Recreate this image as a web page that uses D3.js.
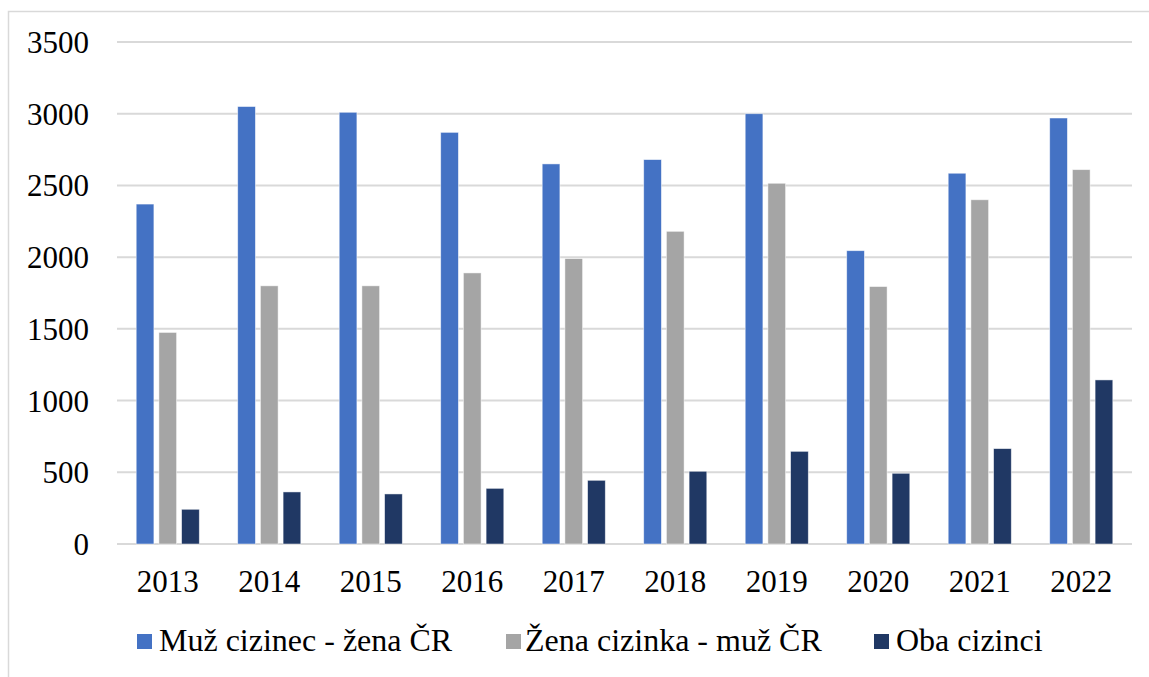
<!DOCTYPE html>
<html>
<head>
<meta charset="utf-8">
<script src="https://cdn.jsdelivr.net/npm/d3@7"></script>
<style>
  html, body { margin: 0; padding: 0; background: #fff; }
  svg { display: block; }
  svg text { font-family: "Liberation Serif", "Times New Roman", serif; }
</style>
</head>
<body>
<svg id="chart" width="1149" height="677"></svg>
<script>
const categories = ["2013","2014","2015","2016","2017","2018","2019","2020","2021","2022"];
const seriesNames = ["Muž cizinec - žena ČR", "Žena cizinka - muž ČR", "Oba cizinci"];
const muzCizinec = [2370, 3050, 3010, 2870, 2650, 2680, 3000, 2045, 2585, 2970];
const zenaCizinka = [1475, 1800, 1800, 1890, 1990, 2180, 2515, 1795, 2400, 2610];
const obaCizinci = [242, 363, 349, 388, 444, 507, 646, 493, 665, 1144];
const yTicks = [0, 500, 1000, 1500, 2000, 2500, 3000, 3500];
const colors = ["#4472C4", "#A5A5A5", "#203864"];

(function () {
const FONT = '"Liberation Serif", "Times New Roman", serif';
const seriesValues = [muzCizinec, zenaCizinka, obaCizinci];
const svg = d3.select("#chart");

// chart frame
svg.append("rect").attr("x", 8.5).attr("y", 11.5).attr("width", 1160).attr("height", 700)
  .attr("fill", "none").attr("stroke", "#d9d9d9").attr("stroke-width", 1.5);

const pLeft = 117, pRight = 1132, pTop = 42, pBottom = 544;
const x = d3.scaleBand().domain(categories).range([pLeft, pRight]);
const y = d3.scaleLinear().domain([0, 3500]).range([pBottom, pTop]);

// gridlines
svg.append("g").selectAll("line").data(yTicks).join("line")
  .attr("x1", pLeft).attr("x2", pRight)
  .attr("y1", d => y(d)).attr("y2", d => y(d))
  .attr("stroke", "#d9d9d9").attr("stroke-width", 2);

// y axis labels
const yAxis = d3.axisLeft(y).tickValues(yTicks).tickSize(0).tickPadding(0).tickFormat(d3.format("d"));
const ya = svg.append("g").attr("transform", `translate(${89},0)`).call(yAxis)
  .attr("font-family", FONT);
ya.select(".domain").remove();
ya.selectAll("text").attr("font-size", 31).attr("fill", "#000")
  .style("font-family", FONT).attr("dy", "0.34em");

// x axis labels
const xAxis = d3.axisBottom(x).tickSize(0).tickPadding(0);
const xa = svg.append("g").attr("transform", `translate(0,${pBottom})`).call(xAxis)
  .attr("font-family", FONT);
xa.select(".domain").remove();
xa.selectAll("text").attr("font-size", 31).attr("fill", "#000")
  .style("font-family", FONT)
  .attr("y", 48).attr("dy", 0);

// bars
const barW = 17.7, step = 22.7;
const inner = d3.scaleBand().domain(d3.range(3)).range([0, 3 * step]).paddingInner(0);
const groupW = 2 * step + barW;
const groups = svg.append("g").selectAll("g").data(categories).join("g")
  .attr("transform", c => `translate(${x(c) + (x.bandwidth() - groupW) / 2},0)`);
groups.selectAll("rect").data((c, i) => seriesValues.map((s, k) => ({k, v: s[i]}))).join("rect")
  .attr("x", d => inner(d.k))
  .attr("width", barW)
  .attr("y", d => y(d.v))
  .attr("height", d => y(0) - y(d.v))
  .attr("fill", d => colors[d.k])
  .attr("stroke", "#ffffff").attr("stroke-opacity", 0.6).attr("stroke-width", 0.8);

// legend
const legendItems = [
  {name: seriesNames[0], color: colors[0], mx: 137, tx: 159},
  {name: seriesNames[1], color: colors[1], mx: 506, tx: 525},
  {name: seriesNames[2], color: colors[2], mx: 874, tx: 896}
];
const lg = svg.append("g");
lg.selectAll("rect").data(legendItems).join("rect")
  .attr("x", d => d.mx).attr("y", 634).attr("width", 15).attr("height", 15)
  .attr("fill", d => d.color);
lg.selectAll("text").data(legendItems).join("text")
  .attr("x", d => d.tx).attr("y", 651)
  .attr("font-size", 32).attr("fill", "#000")
  .style("font-family", FONT)
  .text(d => d.name);
})();
</script>
</body>
</html>
